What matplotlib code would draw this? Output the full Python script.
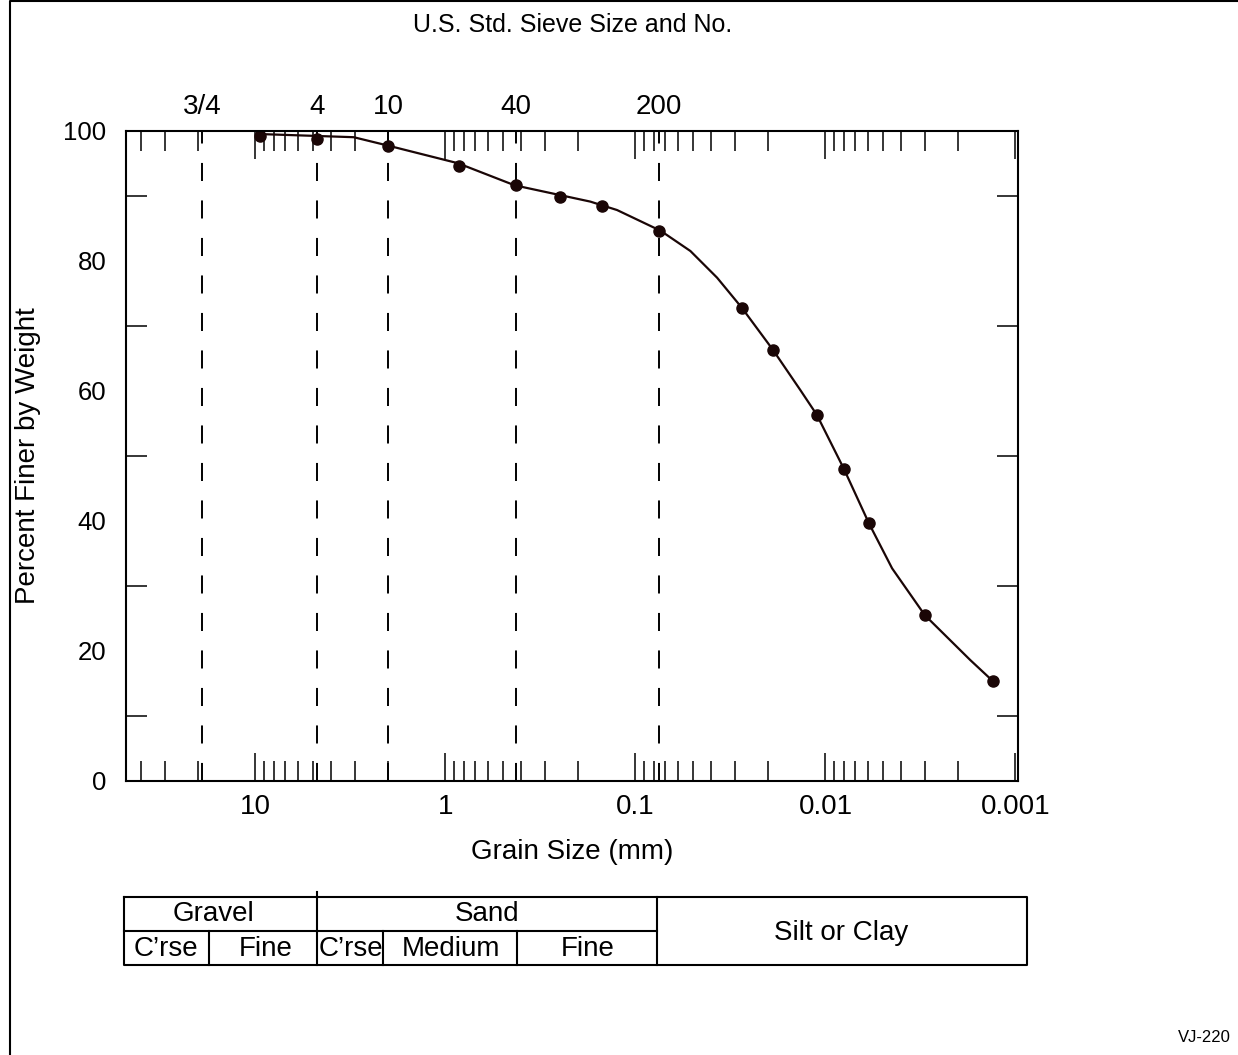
import matplotlib
matplotlib.use("Agg")
import matplotlib.pyplot as plt
from matplotlib.lines import Line2D
from matplotlib.ticker import LogLocator, NullFormatter, FixedLocator

plt.rcParams['font.family'] = ['Liberation Sans', 'DejaVu Sans']
plt.rcParams['lines.scale_dashes'] = False

# test results (grain size mm, percent finer)
grain_mm = [9.5, 4.75, 2.0, 0.85, 0.425, 0.25, 0.15, 0.075,
            0.0276, 0.0189, 0.0111, 0.0080, 0.0059, 0.0030, 0.00132]
pct_finer = [99.2, 98.7, 97.7, 94.5, 91.6, 89.8, 88.4, 84.6,
             72.8, 66.3, 56.3, 48.0, 39.6, 25.5, 15.4]

# fitted curve as drawn on the sheet
curve_mm = [9.8, 3.04, 2.0, 0.86, 0.432, 0.173, 0.125, 0.0736, 0.0514,
            0.0372, 0.0276, 0.0189, 0.01355, 0.0111, 0.0080, 0.0059,
            0.00446, 0.0030, 0.00173, 0.00132]
curve_pct = [99.5, 99.0, 97.7, 95.0, 91.6, 89.1, 87.8, 84.6, 81.5,
             77.4, 72.8, 66.3, 60.1, 56.3, 48.0, 39.6,
             32.7, 25.5, 18.6, 15.4]

sieve_names = ['3/4', '4', '10', '40', '200']
sieve_mm = [19.05, 4.75, 2.0, 0.425, 0.075]

x_tick_vals = [10, 1, 0.1, 0.01, 0.001]
x_tick_labels = ['10', '1', '0.1', '0.01', '0.001']

W, H = 1238, 1055
fig = plt.figure(figsize=(W / 100, H / 100), dpi=100)
ax = fig.add_axes([126 / W, 1 - 781 / H, (1018 - 126) / W, (781 - 130.7) / H])

ax.set_xscale('log')
ax.set_xlim(48, 0.00097)
ax.set_ylim(0, 100)

for s in sieve_mm:
    ax.axvline(s, color='black', lw=1.4, dashes=(13, 14))

ax.plot(curve_mm, curve_pct, color='#1a0606', lw=1.6)
ax.plot(grain_mm, pct_finer, 'o', color='#1a0606', ms=8)

# ticks
ax.xaxis.set_major_locator(FixedLocator(x_tick_vals))
ax.set_xticklabels(x_tick_labels)
ax.xaxis.set_minor_locator(LogLocator(base=10, subs=range(2, 10), numticks=20))
ax.xaxis.set_minor_formatter(NullFormatter())
ax.tick_params(axis='x', which='major', direction='in', length=20, width=1.1,
               top=True, bottom=True, labelsize=20, pad=9)
ax.tick_params(axis='x', which='minor', direction='in', length=14.5, width=1.1,
               top=True, bottom=True)

ax.set_yticks([0, 20, 40, 60, 80, 100])
ax.set_yticks([10, 30, 50, 70, 90], minor=True)
ax.tick_params(axis='y', which='major', length=0, labelsize=18.5, pad=14)
ax.tick_params(axis='y', which='minor', direction='in', length=15, width=1.1,
               left=True, right=True)

for sp in ax.spines.values():
    sp.set_linewidth(1.5)

# sieve numbers on top
tr = ax.get_xaxis_transform()
for name, s in zip(sieve_names, sieve_mm):
    ax.text(s, 1.036, name, transform=tr, ha='center', va='center', fontsize=20)

ax.set_xlabel('Grain Size (mm)', fontsize=20, labelpad=14)
ax.set_ylabel('Percent Finer by Weight', fontsize=20, labelpad=16)
fig.text(573 / W, 1 - 25 / H, 'U.S. Std. Sieve Size and No.', ha='center',
         va='center', fontsize=18)
fig.text(1204 / W, 1 - 1037 / H, 'VJ-220', ha='center', va='center', fontsize=12)

# soil classification table
tab = fig.add_axes([0, 0, 1, 1])
tab.set_xlim(0, W)
tab.set_ylim(H, 0)
tab.axis('off')
t_left, t_right = 123.5, 1026.7
t_top, t_mid, t_bot = 897, 931, 965
lw = 1.5
tab.add_line(Line2D([t_left, t_right, t_right, t_left, t_left],
                    [t_top, t_top, t_bot, t_bot, t_top], color='black', lw=lw))
tab.add_line(Line2D([t_left, 657], [t_mid, t_mid], color='black', lw=lw))
tab.add_line(Line2D([317, 317], [892, t_bot], color='black', lw=lw))
tab.add_line(Line2D([657, 657], [t_top, t_bot], color='black', lw=lw))
for xb in [209, 383, 517]:
    tab.add_line(Line2D([xb, xb], [t_mid, t_bot], color='black', lw=lw))

upper_names = ['Gravel', 'Sand']
upper_x = [214, 487]
lower_names = ['C\u2019rse', 'Fine', 'Medium', 'Fine']
lower_x = [166, 266, 451, 588]
for n, xc in zip(upper_names, upper_x):
    tab.text(xc, (t_top + t_mid) / 2, n, ha='center', va='center', fontsize=20)
for n, xc in zip(lower_names, lower_x):
    tab.text(xc, (t_mid + t_bot) / 2 + 1, n, ha='center', va='center', fontsize=20)
tab.text(319, (t_mid + t_bot) / 2 + 1, 'C\u2019rse', ha='left', va='center', fontsize=20)
tab.text(841, (t_top + t_bot) / 2 + 2, 'Silt or Clay', ha='center', va='center',
         fontsize=20)

# sheet frame
tab.add_line(Line2D([10, 10, W], [H, 1, 1], color='black', lw=1.5))

fig.savefig('out.png', dpi=100)
